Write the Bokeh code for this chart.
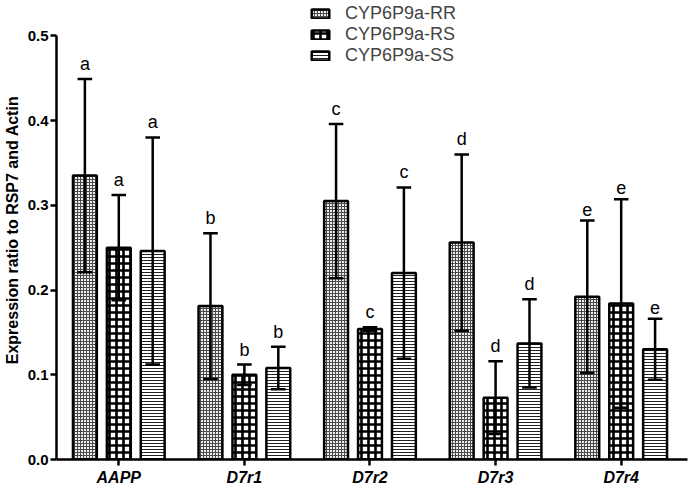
from bokeh.plotting import figure
from bokeh.models import (Range1d, FixedTicker, Legend, LegendItem,
                          ColumnDataSource, PrintfTickFormatter)
from bokeh.core.properties import value
from bokeh.embed import file_html
from bokeh.resources import INLINE

# ---------------- data ----------------
categories = ["AAPP", "D7r1", "D7r2", "D7r3", "D7r4"]
series = ["CYP6P9a-RR", "CYP6P9a-RS", "CYP6P9a-SS"]

rr_mean = [0.335, 0.181, 0.305, 0.256, 0.192]
rr_err = [0.114, 0.086, 0.091, 0.104, 0.090]
rs_mean = [0.250, 0.100, 0.154, 0.073, 0.184]
rs_err = [0.062, 0.012, 0.002, 0.043, 0.123]
ss_mean = [0.246, 0.108, 0.220, 0.137, 0.130]
ss_err = [0.134, 0.025, 0.101, 0.052, 0.036]

letters = ["a", "b", "c", "d", "e"]
y_ticks = [0.0, 0.1, 0.2, 0.3, 0.4, 0.5]

FONT = "Liberation Sans"

p = figure(width=690, height=488, output_backend="svg", toolbar_location=None,
           x_range=Range1d(-0.496, 4.528), y_range=Range1d(0, 0.5416),
           min_border_left=49, min_border_right=3, min_border_top=0,
           min_border_bottom=26)
p.outline_line_color = None
p.xgrid.visible = False
p.ygrid.visible = False
p.background_fill_color = "white"

offsets = [-0.27, 0.0, 0.27]
means = [rr_mean, rs_mean, ss_mean]
errs = [rr_err, rs_err, ss_err]
hatches = [
    dict(fill_color="#ededed", hatch_pattern="cross", hatch_scale=3,
         hatch_weight=1, hatch_color="#4a4a4a"),
    dict(fill_color="white", hatch_pattern="cross", hatch_scale=7,
         hatch_weight=2.6, hatch_color="black"),
    dict(fill_color="white", hatch_pattern="horizontal_line", hatch_scale=3,
         hatch_weight=1, hatch_color="#222222"),
]
bar_w = 0.19
cap_half = 0.058

renderers = []
for k in range(3):
    xs = [i + offsets[k] for i in range(len(categories))]
    m = means[k]
    e = errs[k]
    src = ColumnDataSource(dict(
        x=xs, top=m,
        upper=[a + b for a, b in zip(m, e)],
        lower=[a - b for a, b in zip(m, e)],
        cl=[x - cap_half for x in xs],
        cr=[x + cap_half for x in xs],
        label=letters,
    ))
    r = p.vbar(x="x", top="top", bottom=0, width=bar_w, source=src,
               line_color="black", line_width=2.5, **hatches[k])
    renderers.append(r)
    p.segment(x0="x", y0="lower", x1="x", y1="upper", source=src,
              line_color="black", line_width=2.5)
    p.segment(x0="cl", y0="upper", x1="cr", y1="upper", source=src,
              line_color="black", line_width=2.5)
    p.segment(x0="cl", y0="lower", x1="cr", y1="lower", source=src,
              line_color="black", line_width=2.5)
    p.text(x="x", y="upper", text="label", source=src, text_align="center",
           text_baseline="bottom", y_offset=-5, text_color="black",
           text_font=value(FONT), text_font_size="18px")

legend = Legend(items=[LegendItem(label=series[k], renderers=[renderers[k]])
                       for k in range(3)],
                location=(253, 393), padding=0, spacing=0, margin=0,
                glyph_width=22, glyph_height=11, label_standoff=14,
                label_text_font=FONT, label_text_font_size="18px",
                border_line_color=None, background_fill_alpha=0)
p.add_layout(legend)

# axes
p.xaxis.ticker = FixedTicker(ticks=list(range(len(categories))))
p.xaxis.major_label_overrides = {i: c for i, c in enumerate(categories)}
p.yaxis.ticker = FixedTicker(ticks=y_ticks)
p.yaxis.formatter = PrintfTickFormatter(format="%.1f")
p.yaxis.bounds = (0, 0.5)
p.yaxis.axis_label = "Expression ratio to RSP7 and Actin"

for ax in (p.xaxis[0], p.yaxis[0]):
    ax.axis_line_width = 2.5
    ax.axis_line_color = "black"
    ax.major_tick_line_width = 2.5
    ax.major_tick_line_color = "black"
    ax.major_tick_out = 6
    ax.major_tick_in = 0
    ax.minor_tick_out = 0
    ax.minor_tick_in = 0
    ax.major_label_text_font = FONT
    ax.major_label_text_color = "black"
    ax.major_label_text_font_size = "15px"
    ax.axis_label_text_font = FONT
    ax.axis_label_text_font_size = "16px"
    ax.axis_label_text_font_style = "bold"
    ax.axis_label_text_color = "black"

p.yaxis.major_label_text_font_style = "bold"
p.yaxis.major_label_standoff = 2
p.yaxis.axis_label_standoff = 4
p.xaxis.major_label_text_font_style = "bold italic"
p.xaxis.major_label_text_font_size = "16px"
p.xaxis.major_label_standoff = 3

open("out.html", "w").write(file_html(p, INLINE))
